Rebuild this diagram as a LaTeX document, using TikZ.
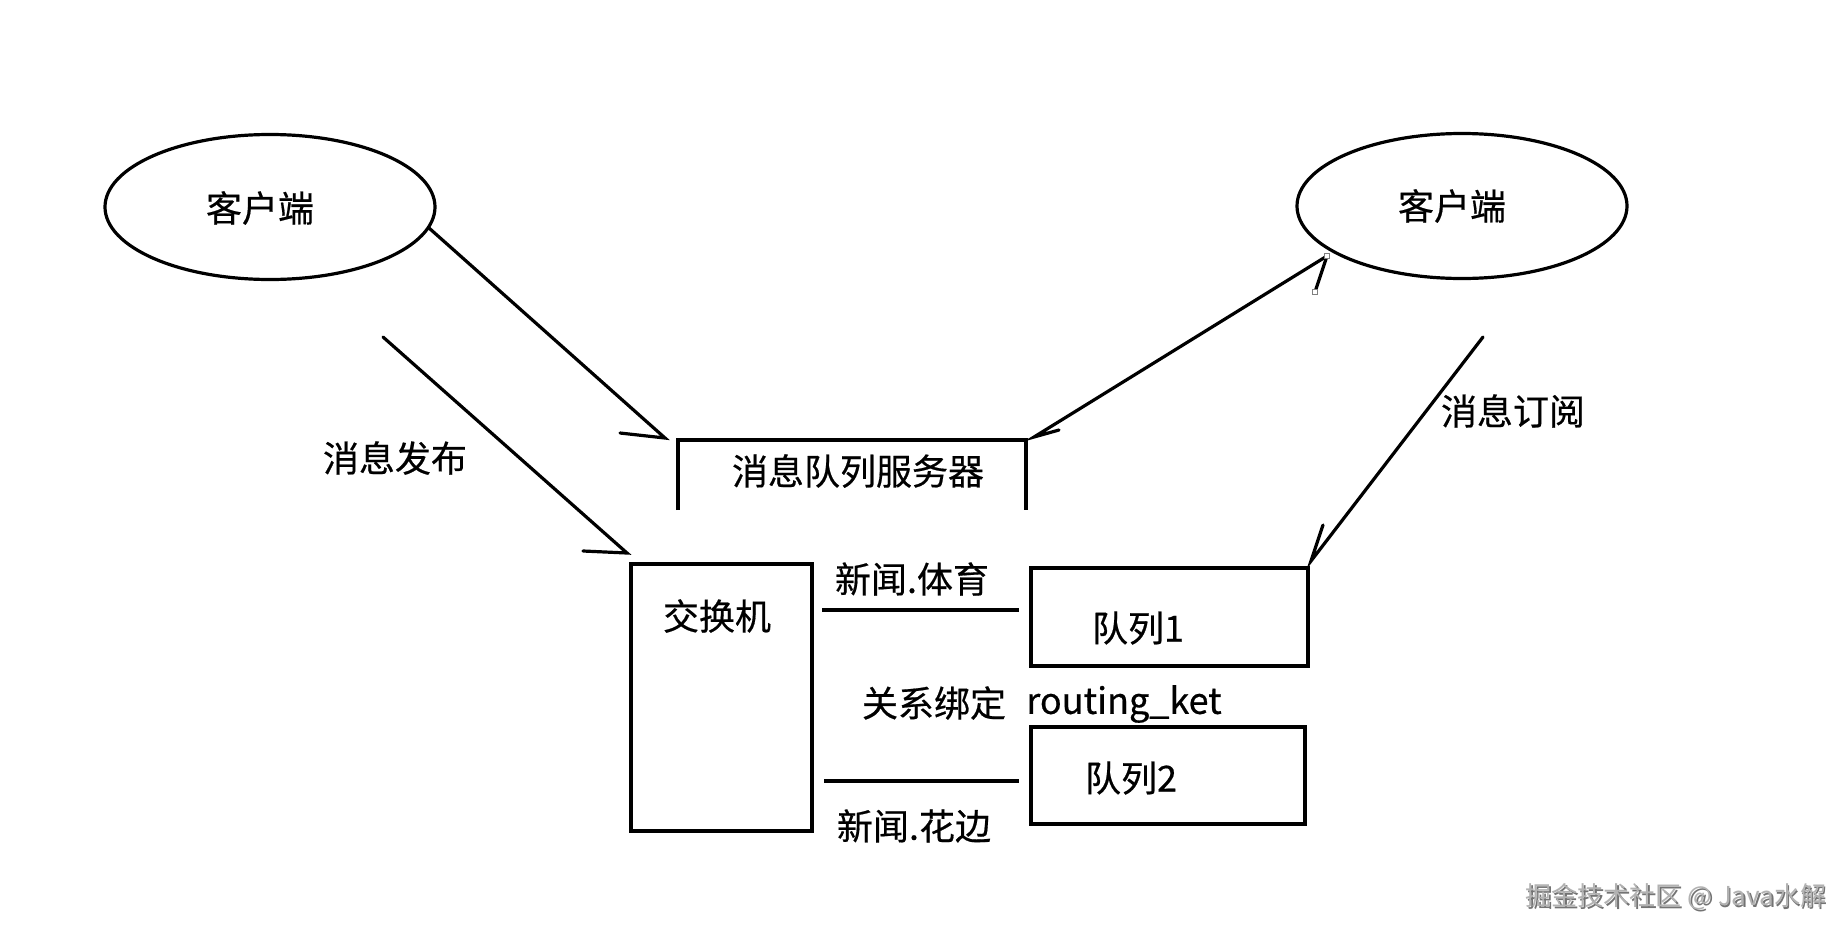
\documentclass[tikz,border=0pt]{standalone}
\usepackage{fontspec}
\setmainfont{Noto Sans CJK SC}
\newfontfamily\lblfont{Noto Sans CJK SC}[FakeBold=0.5]
\usetikzlibrary{shapes.geometric}
\begin{document}
\begin{tikzpicture}[x=1pt,y=-1pt,
  ln/.style={line width=3.2pt,line cap=round},
  oval/.style={draw,ellipse,line width=3.2pt,minimum width=330pt,minimum height=145pt,inner sep=0pt},
  boxn/.style={draw,rectangle,line width=3.2pt,inner sep=0pt},
  lbl/.style={font=\lblfont\fontsize{36}{40}\selectfont,inner sep=0pt},
  handle/.style={draw=gray,fill=white,line width=0.8pt,minimum size=5pt,inner sep=0pt}]
\fill[white] (0,0) rectangle (1831,937);
\useasboundingbox (0,0) rectangle (1831,937);
% clients
\node[oval] (c1) at (270,207) {};
\node[lbl] (c1t) at (260,208) {客户端};
\node[oval] (c2) at (1462,206) {};
\node[lbl] (c2t) at (1452,206) {客户端};
% server (open bottom)
\coordinate (s1) at (678,510);
\coordinate (s2) at (678,440);
\coordinate (s3) at (1026,440);
\coordinate (s4) at (1026,510);
\draw[ln,line cap=butt] (s1) -- (s2) -- (s3) -- (s4);
\node[lbl] (srv) at (858,471) {消息队列服务器};
% exchange
\node[boxn,minimum width=181pt,minimum height=267pt] (ex) at (721.5,697.5) {};
\node[lbl] (ext) at (717,616) {交换机};
% queues
\node[boxn,minimum width=277pt,minimum height=98pt] (q1) at (1169.5,617) {};
\node[lbl] (q1t) at (1138,628) {队列1};
\node[boxn,minimum width=274pt,minimum height=97pt] (q2) at (1168,775.5) {};
\node[lbl] (q2t) at (1131,778) {队列2};
% binding lines
\coordinate (b1a) at (822,610);
\coordinate (b1b) at (1019,610);
\coordinate (b2a) at (824,781);
\coordinate (b2b) at (1019,781);
\draw[ln,line cap=butt] (b1a) -- (b1b);
\draw[ln,line cap=butt] (b2a) -- (b2b);
\node[lbl] (sp) at (912,579) {新闻.体育};
\node[lbl] (hb) at (914,826) {新闻.花边};
\node[lbl] (gx) at (934,703) {关系绑定};
\node[lbl] (rk) at (1124,704) {routing\_ket};
\node[lbl] (pub) at (395,458) {消息发布};
\node[lbl] (sub) at (1513,411) {消息订阅};
% arrow A : client1 -> server
\coordinate (a0) at (429,228);
\coordinate (a1) at (665,438);
\coordinate (ab) at (620,433);
\draw[ln] (a0) -- (a1) -- (ab);
% arrow B : -> exchange
\coordinate (bb0) at (383,337);
\coordinate (bb1) at (627,553);
\coordinate (bbb) at (583,551);
\draw[ln] (bb0) -- (bb1) -- (bbb);
% arrow C : server <-> client2
\coordinate (cc0) at (1327,256);
\coordinate (cc1) at (1034,437);
\coordinate (ccb) at (1059,430);
\coordinate (cch) at (1315,292);
\draw[ln] (cc0) -- (cc1) -- (ccb);
\draw[ln] (cc0) -- (cch);
\node[handle] (h1) at (cc0) {};
\node[handle] (h2) at (cch) {};
% arrow D : subscribe -> queue1
\coordinate (d0) at (1483,337);
\coordinate (d1) at (1311,561);
\coordinate (db) at (1323,525);
\draw[ln] (d0) -- (d1) -- (db);
% watermark
\node[font=\fontsize{26}{30}\selectfont,text=black!55,inner sep=0pt] (wm) at (1677.5,898.5) {掘金技术社区 @ Java水解};
\node[font=\fontsize{26}{30}\selectfont,text=black!30,inner sep=0pt] (wm2) at (1676,897) {掘金技术社区 @ Java水解};
\end{tikzpicture}
\end{document}
